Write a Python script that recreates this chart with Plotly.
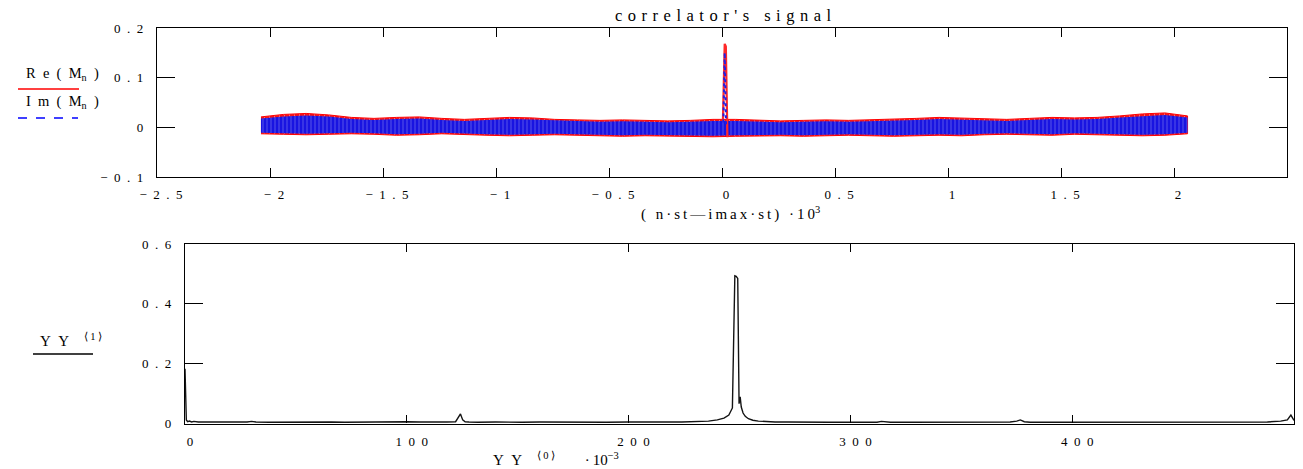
import plotly.graph_objects as go

# ---------------- data: top panel (correlator's signal) ----------------
band_x = [-2.04, -1.94, -1.84, -1.74, -1.64, -1.54, -1.44, -1.34, -1.24, -1.14,
          -1.04, -0.94, -0.84, -0.74, -0.64, -0.54, -0.44, -0.34, -0.24, -0.14,
          -0.04, 0.06, 0.16, 0.26, 0.36, 0.46, 0.56, 0.66, 0.76, 0.86,
          0.96, 1.06, 1.16, 1.26, 1.36, 1.46, 1.56, 1.66, 1.76, 1.86,
          1.96, 2.06]
re_hi = [0.021, 0.026, 0.028, 0.025, 0.020, 0.018, 0.020, 0.021, 0.018, 0.016,
         0.018, 0.020, 0.019, 0.016, 0.015, 0.014, 0.015, 0.014, 0.013, 0.014,
         0.016, 0.016, 0.014, 0.013, 0.014, 0.015, 0.014, 0.015, 0.017, 0.018,
         0.020, 0.019, 0.017, 0.016, 0.018, 0.020, 0.019, 0.020, 0.023, 0.027,
         0.029, 0.023]
re_lo = [-0.013, -0.014, -0.015, -0.014, -0.013, -0.014, -0.016, -0.015, -0.013, -0.014,
         -0.016, -0.017, -0.016, -0.015, -0.016, -0.017, -0.018, -0.017, -0.017, -0.018,
         -0.019, -0.018, -0.017, -0.017, -0.018, -0.017, -0.016, -0.017, -0.018, -0.017,
         -0.016, -0.017, -0.015, -0.014, -0.015, -0.016, -0.014, -0.015, -0.016, -0.017,
         -0.016, -0.013]
im_hi = [0.018, 0.022, 0.024, 0.022, 0.017, 0.015, 0.017, 0.018, 0.015, 0.013,
         0.015, 0.017, 0.016, 0.014, 0.012, 0.011, 0.012, 0.011, 0.010, 0.011,
         0.013, 0.013, 0.011, 0.010, 0.011, 0.012, 0.011, 0.012, 0.014, 0.015,
         0.017, 0.016, 0.014, 0.013, 0.015, 0.017, 0.016, 0.017, 0.020, 0.023,
         0.025, 0.020]
im_lo = [-0.011, -0.012, -0.013, -0.012, -0.011, -0.012, -0.014, -0.013, -0.011, -0.012,
         -0.014, -0.015, -0.014, -0.013, -0.014, -0.015, -0.016, -0.015, -0.015, -0.016,
         -0.017, -0.016, -0.015, -0.015, -0.016, -0.015, -0.014, -0.015, -0.016, -0.015,
         -0.014, -0.015, -0.013, -0.012, -0.013, -0.014, -0.012, -0.013, -0.014, -0.015,
         -0.014, -0.011]
re_spike_x = [0.004, 0.012, 0.017, 0.024]
re_spike_y = [0.012, 0.168, 0.163, -0.020]
im_spike_x = [0.006, 0.012, 0.018]
im_spike_y = [0.010, 0.150, 0.005]

top_xticks = [-2.5, -2, -1.5, -1, -0.5, 0, 0.5, 1, 1.5, 2, 2.5]
top_xlabels = ["−2.5", "−2", "−1.5", "−1", "−0.5", "0", "0.5", "1", "1.5", "2", "2.5"]
top_yticks = [-0.1, 0, 0.1, 0.2]
top_ylabels = ["−0.1", "0", "0.1", "0.2"]

# ---------------- data: bottom panel (YY) ----------------
yy0 = [0, 0.6, 1.2, 2, 3, 4, 6, 8, 10, 14,
       18, 24, 28, 30, 32, 38, 46, 54, 60, 63,
       66, 72, 80, 88, 95, 100, 106, 112, 118, 122,
       124.2, 125.2, 126.3, 128, 132, 140, 146, 152, 160, 170,
       180, 190, 200, 208, 216, 224, 230, 236, 240, 243,
       245.2, 246.8, 247.9, 248.5, 249.2, 249.8, 250.3, 250.8, 251.6, 252.6,
       254, 256, 258.5, 262, 266, 272, 280, 290, 300, 306,
       312, 314, 318, 326, 336, 346, 356, 366, 372, 375,
       376.6, 378.4, 381, 388, 398, 410, 422, 436, 450, 464,
       478, 488, 494, 497, 498.6, 499.4, 500]
yy1 = [0.183, 0.012, 0.006, 0.008, 0.005, 0.007, 0.005, 0.005, 0.006, 0.005,
       0.005, 0.004, 0.005, 0.007, 0.005, 0.004, 0.005, 0.004, 0.005, 0.007,
       0.005, 0.004, 0.005, 0.004, 0.005, 0.006, 0.005, 0.004, 0.005, 0.006,
       0.032, 0.012, 0.006, 0.005, 0.004, 0.005, 0.004, 0.004, 0.005, 0.004,
       0.005, 0.004, 0.005, 0.004, 0.005, 0.005, 0.006, 0.008, 0.012, 0.018,
       0.028, 0.052, 0.494, 0.492, 0.485, 0.066, 0.089, 0.055, 0.035, 0.024,
       0.016, 0.011, 0.008, 0.006, 0.005, 0.005, 0.004, 0.004, 0.004, 0.004,
       0.004, 0.007, 0.004, 0.004, 0.004, 0.004, 0.004, 0.004, 0.005, 0.008,
       0.012, 0.006, 0.004, 0.004, 0.004, 0.004, 0.004, 0.004, 0.004, 0.004,
       0.004, 0.005, 0.008, 0.012, 0.028, 0.015, 0.010]

bot_xticks = [0, 100, 200, 300, 400]
bot_xlabels = ["0", "100", "200", "300", "400"]
bot_yticks = [0, 0.2, 0.4, 0.6]
bot_ylabels = ["0", "0.2", "0.4", "0.6"]

W, H = 1303, 469
SERIF = "Liberation Serif, Times New Roman, serif"
EN = "\u2002"     # en space
TPM = "\u2004"    # three-per-em space
THIN = "\u2009"   # thin space


def spaced(s, sp=EN):
    return sp.join(s)


def px(x):
    return x / W


def py(y):
    return 1 - y / H


fig = go.Figure()

# top panel: Re band (red) below Im band (blue), both finely striped with white gaps
fig.add_trace(go.Scatter(x=band_x + band_x[::-1], y=re_hi + re_lo[::-1],
                         fill="toself", fillcolor="rgb(245,20,25)",
                         fillpattern=dict(shape="|", fgcolor="rgb(255,255,255)",
                                          bgcolor="rgb(245,20,25)",
                                          size=5, solidity=0.15),
                         line=dict(color="rgb(255,0,0)", width=1),
                         mode="lines", xaxis="x", yaxis="y", showlegend=False))
fig.add_trace(go.Scatter(x=band_x + band_x[::-1], y=im_hi + im_lo[::-1],
                         fill="toself", fillcolor="rgb(25,20,225)",
                         fillpattern=dict(shape="|", fgcolor="rgb(235,235,255)",
                                          bgcolor="rgb(25,20,225)",
                                          size=4, solidity=0.15),
                         line=dict(width=0), mode="lines",
                         xaxis="x", yaxis="y", showlegend=False))
fig.add_trace(go.Scatter(x=re_spike_x, y=re_spike_y, mode="lines",
                         line=dict(color="rgb(255,40,40)", width=2.2),
                         xaxis="x", yaxis="y", showlegend=False))
fig.add_trace(go.Scatter(x=im_spike_x, y=im_spike_y, mode="lines",
                         line=dict(color="rgb(30,30,230)", width=2, dash="dot"),
                         xaxis="x", yaxis="y", showlegend=False))

# bottom panel
fig.add_trace(go.Scatter(x=yy0, y=yy1, mode="lines",
                         line=dict(color="rgb(20,20,20)", width=1.4),
                         xaxis="x2", yaxis="y2", showlegend=False))

tickfont = dict(family=SERIF, size=13, color="black")
common = dict(showgrid=False, zeroline=False, showline=True, linecolor="black",
              linewidth=1.3, mirror="ticks", ticks="inside", tickcolor="black",
              tickwidth=1.3, tickfont=tickfont, tickmode="array", automargin=False)

fig.update_layout(
    width=W, height=H,
    margin=dict(l=0, r=0, t=0, b=0, pad=0, autoexpand=False),
    paper_bgcolor="white", plot_bgcolor="white",
    xaxis=dict(domain=[157 / W, 1287 / W], range=[-2.5, 2.5], anchor="y",
               tickvals=top_xticks, ticktext=[spaced(t) for t in top_xlabels],
               ticklen=9, ticklabelstandoff=5, ticklabelshift=4, **common),
    yaxis=dict(domain=[(H - 177) / H, (H - 28) / H], range=[-0.1, 0.2], anchor="x",
               tickvals=top_yticks, ticktext=[spaced(t) for t in top_ylabels],
               ticklen=18, ticklabelstandoff=10, **common),
    xaxis2=dict(domain=[185 / W, 1294 / W], range=[0, 500], anchor="y2",
                tickvals=bot_xticks, ticktext=[spaced(t) for t in bot_xlabels],
                ticklen=8, ticklabelstandoff=6, ticklabelshift=5, **common),
    yaxis2=dict(domain=[(H - 423.5) / H, (H - 244) / H], range=[0, 0.6], anchor="x2",
                tickvals=bot_yticks, ticktext=[spaced(t) for t in bot_ylabels],
                ticklen=18, ticklabelstandoff=10, **common),
)


def note(text, x, y, size):
    return dict(text=text, x=px(x), y=py(y), xref="paper", yref="paper",
                xanchor="center", yanchor="middle", showarrow=False,
                font=dict(family=SERIF, size=size, color="black"))


ang1 = "<sup>⟨" + THIN + "1" + THIN + "⟩</sup>"
ang0 = "<sup>⟨" + THIN + "0" + THIN + "⟩</sup>"
ann = [
    note(spaced("correlator's signal", TPM), 723, 15, 16.5),
    note(spaced("( n·st—imax·st) ·10", THIN) + "<sup>3</sup>", 730, 213, 15),
    note(spaced("Re(M") + "<sub>n</sub>" + EN + ")", 62, 74, 14.5),
    note(spaced("Im(M") + "<sub>n</sub>" + EN + ")", 62, 102, 14.5),
    note("Y" + EN + "Y" + EN + EN + ang1, 71, 340, 15),
    note("Y" + EN + "Y" + EN + EN + ang0 + EN * 4 + "·" + THIN + "10<sup>−3</sup>",
         556, 459, 15),
]
fig.update_layout(annotations=ann)

shapes = [
    dict(type="line", xref="paper", yref="paper", x0=px(18), x1=px(79), y0=py(89), y1=py(89),
         line=dict(color="red", width=1.5)),
    dict(type="line", xref="paper", yref="paper", x0=px(18), x1=px(78), y0=py(118), y1=py(118),
         line=dict(color="blue", width=1.5, dash="dash")),
    dict(type="line", xref="paper", yref="paper", x0=px(33), x1=px(93), y0=py(354), y1=py(354),
         line=dict(color="black", width=1.3)),
]
fig.update_layout(shapes=shapes)

fig.write_html("out.html", config={"displayModeBar": False},
               post_script="document.body.style.margin='0';document.body.style.overflow='hidden';")
